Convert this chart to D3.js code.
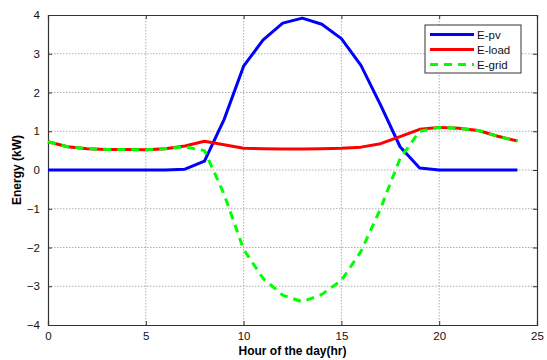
<!DOCTYPE html>
<html>
<head>
<meta charset="utf-8">
<script src="https://cdn.jsdelivr.net/npm/d3@7/dist/d3.min.js"></script>
<style>
  body { margin: 0; background: #fff; }
  svg { display: block; font-family: "Liberation Sans", Arial, sans-serif; }
  .grid line { stroke: #9a9a9a; stroke-width: 0.8; stroke-dasharray: 1.5, 1.5; }
  .tick-label { font-size: 11.5px; fill: #111; }
</style>
</head>
<body>
<div id="chart"></div>
<script>
// 数据：每小时的能量 (kW)
const hours = d3.range(0, 25);
const ePv = [0, 0, 0, 0, 0, 0, 0, 0.02, 0.23, 1.3, 2.68, 3.36, 3.79, 3.92, 3.76, 3.39, 2.7, 1.68, 0.6, 0.05, 0, 0, 0, 0, 0];
const eLoad = [0.73, 0.6, 0.55, 0.53, 0.53, 0.52, 0.55, 0.62, 0.74, 0.65, 0.56, 0.55, 0.54, 0.54, 0.55, 0.56, 0.59, 0.68, 0.86, 1.05, 1.1, 1.08, 1.02, 0.87, 0.75];
const eGrid = [0.73, 0.6, 0.55, 0.53, 0.53, 0.52, 0.55, 0.6, 0.5, -0.62, -2.05, -2.8, -3.23, -3.4, -3.21, -2.85, -2.1, -1.0, 0.3, 1.0, 1.1, 1.08, 1.02, 0.87, 0.75];

const xTicks = [0, 5, 10, 15, 20, 25];
const yTicks = [-4, -3, -2, -1, 0, 1, 2, 3, 4];

const series = [
  { name: "E-pv", values: ePv, color: "#0000ff", dash: null },
  { name: "E-load", values: eLoad, color: "#ff0000", dash: null },
  { name: "E-grid", values: eGrid, color: "#00ff00", dash: "8,6" }
];

const width = 547, height = 360;
const margin = { left: 48, right: 10, top: 15, bottom: 35 };
const plotW = width - margin.left - margin.right;
const plotH = height - margin.top - margin.bottom;

const svg = d3.select("#chart").append("svg")
  .attr("width", width)
  .attr("height", height);

const x = d3.scaleLinear().domain([0, 25]).range([margin.left, margin.left + plotW]);
const y = d3.scaleLinear().domain([-4, 4]).range([margin.top + plotH, margin.top]);

// 网格线
const grid = svg.append("g").attr("class", "grid");
grid.selectAll(".gx")
  .data(xTicks.slice(1, -1))
  .join("line")
  .attr("class", "gx")
  .attr("x1", d => x(d)).attr("x2", d => x(d))
  .attr("y1", y(4)).attr("y2", y(-4));
grid.selectAll(".gy")
  .data(yTicks.slice(1, -1))
  .join("line")
  .attr("class", "gy")
  .attr("y1", d => y(d)).attr("y2", d => y(d))
  .attr("x1", x(0)).attr("x2", x(25));

// 坐标轴（刻度朝内）
const axisColor = "#333";
const tickLen = 4;
const bottomAxis = svg.append("g")
  .attr("transform", `translate(0,${y(-4)})`)
  .call(d3.axisBottom(x).tickValues(xTicks).tickSize(-tickLen).tickPadding(7));
const topAxis = svg.append("g")
  .attr("transform", `translate(0,${y(4)})`)
  .call(d3.axisTop(x).tickValues(xTicks).tickSize(-tickLen).tickFormat(""));
const leftAxis = svg.append("g")
  .attr("transform", `translate(${x(0)},0)`)
  .call(d3.axisLeft(y).tickValues(yTicks).tickSize(-tickLen).tickPadding(8));
const rightAxis = svg.append("g")
  .attr("transform", `translate(${x(25)},0)`)
  .call(d3.axisRight(y).tickValues(yTicks).tickSize(-tickLen).tickFormat(""));

[bottomAxis, topAxis, leftAxis, rightAxis].forEach(a => {
  a.select(".domain").attr("stroke", axisColor).attr("stroke-width", 1.2);
  a.selectAll(".tick line").attr("stroke", axisColor);
  a.selectAll(".tick text")
    .attr("class", "tick-label")
    .attr("font-family", null)
    .attr("font-size", null);
});

// 曲线
const line = d3.line()
  .x((d, i) => x(hours[i]))
  .y(d => y(d));

svg.append("g").selectAll("path")
  .data(series)
  .join("path")
  .attr("d", d => line(d.values))
  .attr("fill", "none")
  .attr("stroke", d => d.color)
  .attr("stroke-width", 3)
  .attr("stroke-linejoin", "round")
  .attr("stroke-dasharray", d => d.dash);

// 图例
const legend = svg.append("g").attr("transform", "translate(425,25)");
legend.append("rect")
  .attr("width", 96).attr("height", 48)
  .attr("fill", "#fff").attr("stroke", "#333").attr("stroke-width", 1);
series.forEach((s, i) => {
  const ly = 9.5 + i * 15;
  legend.append("line")
    .attr("x1", 5).attr("x2", 49)
    .attr("y1", ly).attr("y2", ly)
    .attr("stroke", s.color).attr("stroke-width", 3)
    .attr("stroke-dasharray", s.dash);
  legend.append("text")
    .attr("x", 52).attr("y", ly + 4)
    .attr("font-size", 11.5)
    .attr("fill", "#111")
    .text(s.name);
});

// 轴标题
svg.append("text")
  .attr("x", x(12.5)).attr("y", 355)
  .attr("text-anchor", "middle")
  .attr("font-size", 12).attr("font-weight", "bold")
  .text("Hour of the day(hr)");
svg.append("text")
  .attr("transform", `translate(21,${y(0)}) rotate(-90)`)
  .attr("text-anchor", "middle")
  .attr("font-size", 12).attr("font-weight", "bold")
  .text("Energy (kW)");
</script>
</body>
</html>
